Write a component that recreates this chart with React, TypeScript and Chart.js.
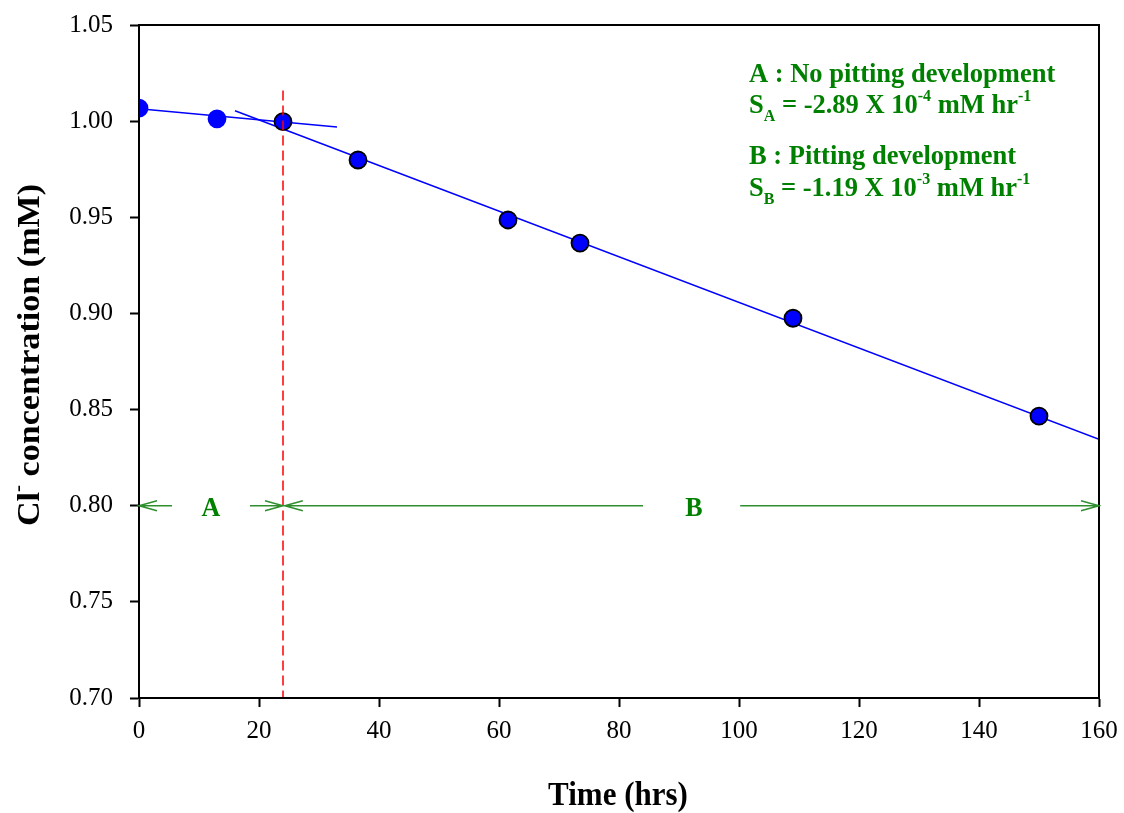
import React, { useEffect, useRef } from "react";
import { Chart, registerables } from "chart.js";

Chart.register(...registerables);

// Measured data
const timeHrs = [0, 13, 24, 36.5, 61.5, 73.5, 109, 150];
const chloride = [1.0068, 1.0012, 0.9997, 0.9798, 0.9486, 0.9366, 0.8975, 0.8466];
const pointBorders = ["#0000ff", "#0000ff", "#000000", "#000000", "#000000", "#000000", "#000000", "#000000"];

// Fitted lines (endpoints)
const fitAX = [0, 33];
const fitAY = [1.0065, 0.997];
const fitBX = [16, 160];
const fitBY = [1.0054, 0.8345];

// Divider at the onset of pitting
const dividerX = [24, 24];
const dividerY = [1.016, 0.7];

// Region arrows at C = 0.80
const arrowLevel = 0.8;
const arrowFrom = [5.5, 18.5, 84, 100.2];
const arrowTo = [0, 24, 24.3, 160];
const regionLabels = ["A", "B"];
const regionLabelX = [12, 92.5];

const xTicks = [0, 20, 40, 60, 80, 100, 120, 140, 160];
const yTicks = [0.7, 0.75, 0.8, 0.85, 0.9, 0.95, 1.0, 1.05];

const GREEN = "#008000";
const SERIF = "'Liberation Serif', 'Times New Roman', serif";

type Part = { t: string; size: number; dy?: number };

function drawRich(
  ctx: CanvasRenderingContext2D,
  x: number,
  y: number,
  parts: Part[],
  align: "left" | "center" = "left",
  sy = 1.06
) {
  ctx.save();
  ctx.translate(x, y);
  ctx.scale(1, sy);
  let total = 0;
  for (const p of parts) {
    ctx.font = `bold ${p.size}px ${SERIF}`;
    total += ctx.measureText(p.t).width;
  }
  let cx = align === "center" ? -total / 2 : 0;
  for (const p of parts) {
    ctx.font = `bold ${p.size}px ${SERIF}`;
    ctx.fillText(p.t, cx, p.dy || 0);
    cx += ctx.measureText(p.t).width;
  }
  ctx.restore();
}

const decorPlugin = {
  id: "decor",
  afterDatasetsDraw(chart: any) {
    const { ctx, chartArea, scales } = chart;
    const xs = scales.x;
    const ys = scales.y;
    ctx.save();
    // frame
    ctx.strokeStyle = "#000";
    ctx.lineWidth = 2;
    ctx.strokeRect(chartArea.left, chartArea.top, chartArea.right - chartArea.left, chartArea.bottom - chartArea.top);

    // arrows
    const py = ys.getPixelForValue(arrowLevel);
    ctx.strokeStyle = "#2f8f2f";
    ctx.lineWidth = 1.5;
    for (let i = 0; i < arrowFrom.length; i++) {
      const x0 = xs.getPixelForValue(arrowFrom[i]);
      const x1 = xs.getPixelForValue(arrowTo[i]);
      const dir = x1 > x0 ? 1 : -1;
      ctx.beginPath();
      ctx.moveTo(x0, py);
      ctx.lineTo(x1, py);
      ctx.moveTo(x1 - dir * 18, py - 5);
      ctx.lineTo(x1, py);
      ctx.lineTo(x1 - dir * 18, py + 5);
      ctx.stroke();
    }
    ctx.fillStyle = GREEN;
    ctx.textBaseline = "middle";
    for (let i = 0; i < regionLabels.length; i++) {
      drawRich(ctx, xs.getPixelForValue(regionLabelX[i]), py + 3, [{ t: regionLabels[i], size: 26 }], "center");
    }

    // annotation text
    ctx.textBaseline = "alphabetic";
    const tx = 749;
    drawRich(ctx, tx, 82, [{ t: "A : No pitting development", size: 26.5 }]);
    drawRich(ctx, tx, 113, [
      { t: "S", size: 26.5 },
      { t: "A", size: 16, dy: 8 },
      { t: " = -2.89 X 10", size: 26.5 },
      { t: "-4", size: 16, dy: -11 },
      { t: " mM hr", size: 26.5 },
      { t: "-1", size: 16, dy: -11 },
    ]);
    drawRich(ctx, tx, 164, [{ t: "B : Pitting development", size: 26.5 }]);
    drawRich(ctx, tx, 196, [
      { t: "S", size: 26.5 },
      { t: "B", size: 16, dy: 8 },
      { t: " = -1.19 X 10", size: 26.5 },
      { t: "-3", size: 16, dy: -11 },
      { t: " mM hr", size: 26.5 },
      { t: "-1", size: 16, dy: -11 },
    ]);

    // axis titles
    ctx.fillStyle = "#000";
    ctx.textBaseline = "middle";
    drawRich(ctx, (chartArea.left + chartArea.right) / 2 - 1, 796, [{ t: "Time (hrs)", size: 31 }], "center", 1.1);
    ctx.translate(31, 355);
    ctx.rotate(-Math.PI / 2);
    ctx.save();
    ctx.scale(1.1, 1 / 1.06);
    drawRich(ctx, 0, 0, [
      { t: "Cl", size: 31 },
      { t: "-", size: 19, dy: -12 },
      { t: " concentration (mM)", size: 31 },
    ], "center");
    ctx.restore();
    ctx.restore();
  },
};

export default function App() {
  const ref = useRef<HTMLCanvasElement | null>(null);
  useEffect(() => {
    document.body.style.margin = "0";
    const canvas = ref.current!;
    const chart = new Chart(canvas, {
      type: "scatter",
      data: {
        datasets: [
          {
            label: "divider",
            data: dividerX.map((x, i) => ({ x, y: dividerY[i] })),
            showLine: true,
            borderColor: "#ff0000",
            borderWidth: 1.5,
            borderDash: [10, 5],
            pointRadius: 0,
            order: 0,
          },
          {
            label: "Cl-",
            data: timeHrs.map((x, i) => ({ x, y: chloride[i] })),
            showLine: false,
            pointRadius: 8.5,
            pointHoverRadius: 8.5,
            pointBackgroundColor: "#0000ff",
            pointBorderColor: pointBorders,
            pointBorderWidth: 1.8,
            order: 1,
          },
          {
            label: "fitA",
            data: fitAX.map((x, i) => ({ x, y: fitAY[i] })),
            showLine: true,
            borderColor: "#0000ff",
            borderWidth: 1.5,
            pointRadius: 0,
            order: 2,
          },
          {
            label: "fitB",
            data: fitBX.map((x, i) => ({ x, y: fitBY[i] })),
            showLine: true,
            borderColor: "#0000ff",
            borderWidth: 1.5,
            pointRadius: 0,
            order: 2,
          },
        ],
      },
      options: {
        animation: false,
        responsive: false,
        events: [],
        layout: { padding: { left: 0, right: 25, top: 25, bottom: 0 } },
        plugins: { legend: { display: false }, tooltip: { enabled: false } },
        scales: {
          x: {
            type: "linear",
            min: 0,
            max: 160,
            afterBuildTicks: (s: any) => {
              s.ticks = xTicks.map((v) => ({ value: v }));
            },
            afterFit: (s: any) => {
              s.height = 115;
              s.paddingLeft = 0;
              s.paddingRight = 0;
            },
            grid: { drawOnChartArea: false, tickLength: 9, tickWidth: 2, tickColor: "#000" },
            border: { display: true, color: "#000", width: 2 },
            ticks: { color: "#000", font: { family: SERIF, size: 25 }, padding: 9, maxRotation: 0 },
          },
          y: {
            type: "linear",
            min: 0.7,
            max: 1.05,
            afterBuildTicks: (s: any) => {
              s.ticks = yTicks.map((v) => ({ value: v }));
            },
            afterFit: (s: any) => {
              s.width = 139;
              s.paddingTop = 0;
              s.paddingBottom = 0;
            },
            grid: { drawOnChartArea: false, tickLength: 9, tickWidth: 2, tickColor: "#000" },
            border: { display: true, color: "#000", width: 2 },
            ticks: {
              color: "#000",
              font: { family: SERIF, size: 25 },
              padding: 17,
              callback: (v: any) => Number(v).toFixed(2),
            },
          },
        },
      },
      plugins: [decorPlugin],
    });
    return () => chart.destroy();
  }, []);
  return <canvas ref={ref} width={1124} height={813} style={{ display: "block" }} />;
}
